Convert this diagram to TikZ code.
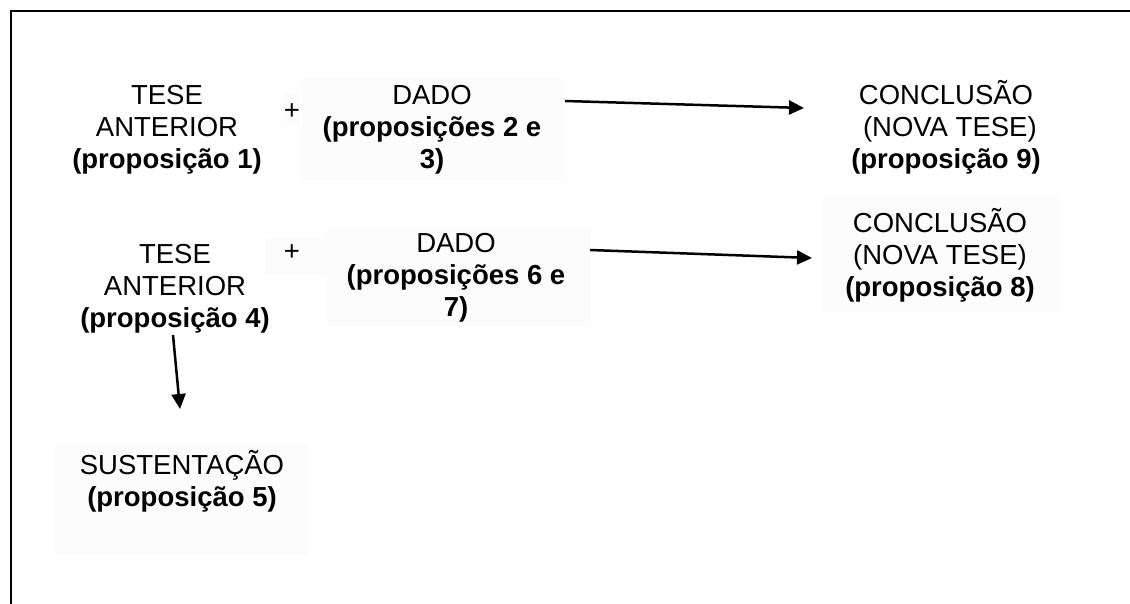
\documentclass[tikz,border=0pt]{standalone}
\usepackage{fontspec}
\setmainfont{Liberation Sans}
\usetikzlibrary{arrows.meta}
\begin{document}
\begin{tikzpicture}[x=1pt,y=-1pt,
  lbl/.style={align=center, inner sep=0pt, font=\fontsize{27.5}{32}\selectfont},
  panel/.style={fill=black!1, draw=none},
  link/.style={line width=2.5pt, -{Triangle[length=15pt,width=14pt]}},
  frameline/.style={line width=2pt}]
\useasboundingbox (0,0) rectangle (1130,604);
% light panels behind the texts
\fill[panel] (283,93) rectangle (299,125);
\fill[panel] (302,78) rectangle (565,180);
\fill[panel] (265,238) rectangle (336,275);
\fill[panel] (327,227) rectangle (591,327);
\fill[panel] (823,195) rectangle (1058,312);
\fill[panel] (55,443) rectangle (308,555);
% open frame: top and left edges
\draw[frameline] (10,11) -- (1130,11);
\draw[frameline] (11,10) -- (11,604);
% first row
\node[lbl] (t1) at (167,130) {TESE\\ANTERIOR\\\textbf{(proposição 1)}};
\node[lbl] (p1) at (292,112) {+};
\node[lbl] (d1) at (432,130) {DADO\\\textbf{(proposições 2 e}\\\textbf{3)}};
\node[lbl] (c1) at (946,127) {CONCLUSÃO\\\hspace*{0.28em}(NOVA TESE)\\\textbf{(proposição 9)}};
% second row
\node[lbl] (t2) at (175,289) {TESE\\ANTERIOR\\\textbf{(proposição 4)}};
\node[lbl] (p2) at (292,253) {+};
\node[lbl] (d2) at (456,278) {DADO\\\textbf{(proposições 6 e}\\\textbf{7)}};
\node[lbl] (c2) at (940,255) {CONCLUSÃO\\(NOVA TESE)\\\textbf{(proposição 8)}};
% support
\node[lbl] (s1) at (182,481) {SUSTENTAÇÃO\\\textbf{(proposição 5)}};
% connector ends
\coordinate (a1from) at (565,101);
\coordinate (a1to) at (804,108);
\coordinate (a2from) at (590,250);
\coordinate (a2to) at (812,258);
\coordinate (a3from) at (173,335);
\coordinate (a3to) at (180,409);
\draw[link] (a1from) -- (a1to);
\draw[link] (a2from) -- (a2to);
\draw[link] (a3from) -- (a3to);
\end{tikzpicture}
\end{document}
